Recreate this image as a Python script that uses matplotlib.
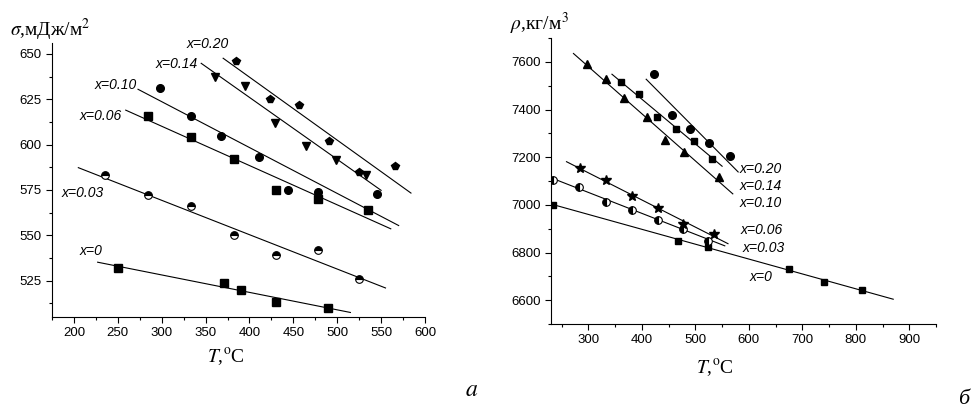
import numpy as np
import matplotlib
matplotlib.use("Agg")
import matplotlib.pyplot as plt
from matplotlib.ticker import MultipleLocator

plt.rcParams['font.family'] = ['Liberation Sans', 'DejaVu Sans']
plt.rcParams['mathtext.fontset'] = 'stix'

# ==========================================
# Panel a: surface tension vs temperature
# ==========================================
sig_labels = ['x=0', 'x=0.03', 'x=0.06', 'x=0.10', 'x=0.14', 'x=0.20']

sig_T = {
    'x=0':    [250, 371, 390, 430, 490],
    'x=0.03': [235, 284, 333, 382, 430, 478, 525],
    'x=0.06': [284, 333, 382, 430, 478, 535],
    'x=0.10': [298, 333, 368, 411, 444, 478, 545],
    'x=0.14': [361, 395, 429, 464, 499, 533],
    'x=0.20': [385, 423, 457, 491, 525, 566],
}
sig_val = {
    'x=0':    [532, 524, 520, 513, 510],
    'x=0.03': [583, 572, 566, 550, 539, 542, 526],
    'x=0.06': [616, 604, 592, 575, 570, 564],
    'x=0.10': [631, 616, 605, 593, 575, 574, 573],
    'x=0.14': [637.5, 632.5, 612, 599, 591.5, 583],
    'x=0.20': [646, 625, 622, 602, 585, 588],
}
# fitted lines as drawn: (T start, T end), (sigma start, sigma end)
sig_line_T = {
    'x=0': (227, 515), 'x=0.03': (205, 555), 'x=0.06': (259, 561),
    'x=0.10': (273, 570), 'x=0.14': (345, 550), 'x=0.20': (370, 584),
}
sig_line_v = {
    'x=0': (535.2, 507.5), 'x=0.03': (587.3, 521), 'x=0.06': (619, 553.6),
    'x=0.10': (630.5, 555.4), 'x=0.14': (644.8, 574.8), 'x=0.20': (647.6, 573.3),
}
sig_text_pos = {
    'x=0': (219, 541.6), 'x=0.03': (210, 573.3), 'x=0.06': (231, 615.9),
    'x=0.10': (248, 632.9), 'x=0.14': (317, 644.3), 'x=0.20': (352, 655.4),
}
sig_markers = {'x=0': 's', 'x=0.03': 'o', 'x=0.06': 's',
               'x=0.10': 'o', 'x=0.14': 'v', 'x=0.20': 'p'}

# ==========================================
# Panel b: density vs temperature
# ==========================================
rho_labels = ['x=0', 'x=0.03', 'x=0.06', 'x=0.10', 'x=0.14', 'x=0.20']

rho_T = {
    'x=0':    [233, 468, 523, 675, 741, 811],
    'x=0.03': [234, 283, 333, 382, 430, 477, 524],
    'x=0.06': [284, 332, 382, 430, 477, 535],
    'x=0.10': [298, 332, 367, 410, 444, 478, 544],
    'x=0.14': [360, 395, 429, 463, 497, 531],
    'x=0.20': [422, 456, 490, 525, 565],
}
rho_val = {
    'x=0':    [7001, 6849, 6823, 6730, 6677, 6643],
    'x=0.03': [7103, 7074, 7012, 6977, 6938, 6900, 6850],
    'x=0.06': [7154, 7103, 7037, 6987, 6920, 6879],
    'x=0.10': [7593, 7527, 7447, 7368, 7274, 7220, 7116],
    'x=0.14': [7516, 7464, 7370, 7320, 7267, 7193],
    'x=0.20': [7550, 7376, 7317, 7259, 7204],
}
rho_line_T = {
    'x=0': (229, 870), 'x=0.03': (234, 555), 'x=0.06': (259, 561),
    'x=0.10': (272, 570), 'x=0.14': (344, 550), 'x=0.20': (408, 580),
}
rho_line_v = {
    'x=0': (7004, 6604), 'x=0.03': (7110, 6828), 'x=0.06': (7181, 6837),
    'x=0.10': (7635, 7046), 'x=0.14': (7548, 7162), 'x=0.20': (7527, 7138),
}
rho_text_pos = {
    'x=0': (601, 6697), 'x=0.03': (588, 6819), 'x=0.06': (585, 6896),
    'x=0.10': (583, 7008), 'x=0.14': (583, 7078), 'x=0.20': (583, 7151),
}
rho_markers = {'x=0': 's', 'x=0.03': 'o', 'x=0.06': '*',
               'x=0.10': '^', 'x=0.14': 's', 'x=0.20': 'o'}
rho_msize = {'x=0': 5, 'x=0.03': 5.5, 'x=0.06': 7.5,
             'x=0.10': 6, 'x=0.14': 5, 'x=0.20': 5.5}


def style_axes(ax):
    for side in ['top', 'right']:
        ax.spines[side].set_visible(False)
    ax.tick_params(which='major', direction='out', length=4, width=0.8,
                   labelsize=9.5)
    ax.tick_params(which='minor', direction='out', length=2.5, width=0.8)


fig = plt.figure(figsize=(9.72, 4.17), dpi=100)

# ---- panel a ----
ax1 = fig.add_axes([52/972, 100/417, 373/972, 274/417])
for lab in sig_labels:
    ax1.plot(sig_line_T[lab], sig_line_v[lab], color='black', lw=0.8)
    kw = dict(color='black', ls='none', marker=sig_markers[lab], ms=5.5)
    if lab == 'x=0.03':
        kw.update(fillstyle='top', markerfacecoloralt='white',
                  markeredgewidth=0.8)
    ax1.plot(sig_T[lab], sig_val[lab], **kw)
    tx, ty = sig_text_pos[lab]
    ax1.text(tx, ty, lab, style='italic', fontsize=10, ha='center',
             va='center', clip_on=False)
ax1.set_xlim(175, 600)
ax1.set_ylim(505, 656)
ax1.set_xticks([200, 250, 300, 350, 400, 450, 500, 550, 600])
ax1.set_yticks([525, 550, 575, 600, 625, 650])
ax1.xaxis.set_minor_locator(MultipleLocator(25))
ax1.yaxis.set_minor_locator(MultipleLocator(12.5))
style_axes(ax1)

# ---- panel b ----
ax2 = fig.add_axes([551/972, 93/417, 385/972, 286/417])
for lab in rho_labels:
    ax2.plot(rho_line_T[lab], rho_line_v[lab], color='black', lw=0.8)
    kw = dict(color='black', ls='none', marker=rho_markers[lab],
              ms=rho_msize[lab])
    if lab == 'x=0.03':
        kw.update(fillstyle='left', markerfacecoloralt='white',
                  markeredgewidth=0.8)
    ax2.plot(rho_T[lab], rho_val[lab], **kw)
    tx, ty = rho_text_pos[lab]
    ax2.text(tx, ty, lab, style='italic', fontsize=10, ha='left',
             va='center', clip_on=False)
ax2.set_xlim(230, 950)
ax2.set_ylim(6500, 7700)
ax2.set_xticks([300, 400, 500, 600, 700, 800, 900])
ax2.set_yticks([6600, 6800, 7000, 7200, 7400, 7600])
ax2.xaxis.set_minor_locator(MultipleLocator(50))
ax2.yaxis.set_minor_locator(MultipleLocator(100))
style_axes(ax2)

# ---- titles / axis captions ----
serif = ['Liberation Serif', 'DejaVu Serif']
fig.text(10/972, 1 - 36/417, r'$\sigma$,мДж/м$^2$', family=serif,
         fontsize=14, ha='left', va='baseline')
fig.text(226/972, 1 - 357/417, r'$T$,$^{\rm o}$C', family=serif,
         fontsize=14, ha='center', va='center')
fig.text(510/972, 1 - 30/417, r'$\rho$,кг/м$^3$', family=serif,
         fontsize=14, ha='left', va='baseline')
fig.text(715/972, 1 - 368/417, r'$T$,$^{\rm o}$C', family=serif,
         fontsize=14, ha='center', va='center')
fig.text(472/972, 1 - 390/417, r'$a$', fontsize=17, ha='center',
         va='center')
fig.text(958/972, 1 - 400/417, 'б', family=serif, style='italic',
         fontsize=16, ha='left', va='center')

fig.savefig('out.png', dpi=100)
